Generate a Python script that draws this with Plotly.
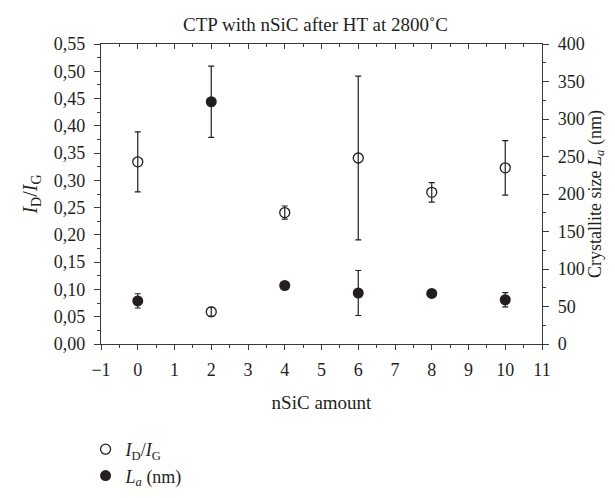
import plotly.graph_objects as go

# ---- data ----
nsic_amount = [0, 2, 4, 6, 8, 10]
id_ig = [0.334, 0.059, 0.241, 0.341, 0.278, 0.323]
id_ig_err = [0.055, 0.008, 0.012, 0.150, 0.018, 0.050]
la_nm = [57.5, 323, 78, 68, 67.5, 59]
la_err = [9.5, 47.5, 0, 30, 0, 9.5]

x_tick_vals = list(range(-1, 12))
left_tick_vals = [round(0.05 * i, 2) for i in range(12)]
right_tick_vals = [50 * i for i in range(9)]

FONT = "Liberation Serif"
INK = "#231f20"
AX = "#3a3a3a"
TICK_SIZE = 18
TITLE_SIZE = 19

fig = go.Figure()

fig.add_trace(go.Scatter(
    x=nsic_amount, y=id_ig, mode="markers",
    name="<i>I</i><sub>D</sub>/<i>I</i><sub>G</sub>",
    marker=dict(symbol="circle-open", size=10, color=INK, line=dict(width=1.3, color=INK)),
    error_y=dict(type="data", array=id_ig_err, visible=True, color=INK, thickness=1.2, width=3),
    yaxis="y", xaxis="x",
))
fig.add_trace(go.Scatter(
    x=nsic_amount, y=la_nm, mode="markers",
    name="<i>L<sub>a</sub></i> (nm)",
    marker=dict(symbol="circle", size=11, color=INK),
    error_y=dict(type="data", array=la_err, visible=True, color=INK, thickness=1.2, width=3),
    yaxis="y2", xaxis="x",
))
# carrier for the top (mirror) axis with inward ticks
fig.add_trace(go.Scatter(x=[None], y=[None], xaxis="x2", yaxis="y",
                         showlegend=False, hoverinfo="skip"))

common = dict(showline=True, linecolor=AX, linewidth=1.2, showgrid=False, zeroline=False,
              tickcolor=AX, tickwidth=1.2,
              tickfont=dict(family=FONT, size=TICK_SIZE, color=INK))

fig.update_layout(
    width=615, height=498,
    margin=dict(l=93, r=81, t=36, b=140),
    paper_bgcolor="white", plot_bgcolor="white",
    separators=", ",
    font=dict(family=FONT, size=TICK_SIZE, color=INK),
    title=dict(text="CTP with nSiC after HT at 2800˚C", x=0.5, xanchor="center",
               y=1 - 16 / 498, yanchor="middle",
               font=dict(family=FONT, size=TITLE_SIZE, color=INK)),
    xaxis=dict(range=[-1, 11], tickvals=x_tick_vals, ticks="outside", ticklen=5,
               ticklabelstandoff=4,
               minor=dict(dtick=0.5, tick0=-1, ticks="outside", ticklen=3, tickcolor=AX, tickwidth=1.2),
               title=dict(text="nSiC amount", font=dict(family=FONT, size=TITLE_SIZE, color=INK), standoff=16),
               **common),
    xaxis2=dict(range=[-1, 11], overlaying="x", side="top", anchor="y",
                tickvals=x_tick_vals, ticks="inside", ticklen=5, showticklabels=False,
                minor=dict(dtick=0.5, tick0=-1, ticks="inside", ticklen=3, tickcolor=AX, tickwidth=1.2),
                **common),
    yaxis=dict(range=[0, 0.55], tickvals=left_tick_vals, tickformat=".2f",
               ticks="outside", ticklen=6, ticklabelstandoff=5,
               minor=dict(dtick=0.025, tick0=0, ticks="outside", ticklen=3, tickcolor=AX, tickwidth=1.2),
               title=dict(text="<i>I</i><sub>D</sub>/<i>I</i><sub>G</sub>",
                          font=dict(family=FONT, size=TITLE_SIZE + 1, color=INK), standoff=10),
               **common),
    yaxis2=dict(range=[0, 400], overlaying="y", side="right", anchor="x",
                tickvals=right_tick_vals, ticks="outside", ticklen=6, ticklabelstandoff=5,
                minor=dict(dtick=25, tick0=0, ticks="outside", ticklen=3, tickcolor=AX, tickwidth=1.2),
                title=dict(text="Crystallite size <i>L<sub>a</sub></i> (nm)",
                           font=dict(family=FONT, size=TITLE_SIZE - 1, color=INK), standoff=0),
                **common),
    legend=dict(x=-0.035, xanchor="left", y=-0.29, yanchor="top",
                font=dict(family=FONT, size=18, color=INK),
                bgcolor="rgba(0,0,0,0)", tracegroupgap=0, itemwidth=30),
    showlegend=True,
)

fig.write_html("out.html")
